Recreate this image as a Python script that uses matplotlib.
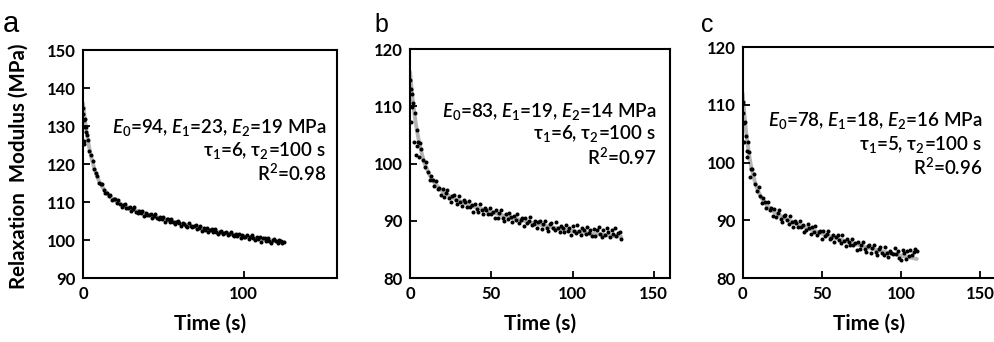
import numpy as np
import matplotlib
matplotlib.use('Agg')
import matplotlib.pyplot as plt

plt.rcParams['font.family'] = ['Lato', 'DejaVu Sans']
plt.rcParams['mathtext.fontset'] = 'custom'
plt.rcParams['mathtext.rm'] = 'Lato:semibold'
plt.rcParams['mathtext.it'] = 'Lato:italic:semibold'
plt.rcParams['mathtext.bf'] = 'Lato:bold'

# measured relaxation modulus (MPa), one sample per second
t_a = np.arange(0, 126)
E_a = [134.8, 131.9, 129.7, 126.3, 123.5, 122.3, 120.9, 118.6, 117.6, 116.9,
       115.0, 114.8, 114.7, 113.2, 112.4, 112.5, 111.7, 111.9, 110.4, 110.9,
       110.7, 109.7, 110.4, 109.5, 108.7, 109.3, 109.4, 108.4, 108.5, 108.7,
       107.7, 108.1, 108.6, 107.5, 107.2, 107.7, 107.2, 107.7, 106.4, 107.1,
       106.5, 106.6, 106.9, 105.9, 106.3, 106.8, 105.8, 105.5, 106.0, 105.5,
       106.0, 104.8, 105.5, 105.5, 104.7, 105.5, 104.7, 104.1, 104.8, 105.0,
       104.5, 103.8, 104.6, 104.3, 103.7, 103.3, 104.4, 103.7, 103.4, 103.8,
       103.9, 102.9, 103.1, 103.8, 102.5, 103.1, 102.6, 103.2, 102.0, 102.7,
       102.8, 102.0, 102.9, 102.1, 101.5, 102.2, 102.4, 101.6, 101.8, 102.1,
       101.2, 101.7, 102.2, 101.2, 101.0, 101.6, 101.1, 101.7, 100.5, 101.2,
       100.7, 100.9, 101.2, 100.3, 100.8, 101.3, 100.4, 100.1, 100.7, 100.3,
       100.8, 99.6, 100.4, 100.4, 99.7, 100.6, 99.8, 99.3, 100.0, 100.3,
       99.8, 99.2, 100.0, 99.8, 99.2, 99.6]
t_a0 = [0.2, 0.4, 0.6, 0.8, 1.3, 1.6, 2.4]
E_a0 = [133.2, 126.0, 131.5, 125.2, 129.8, 128.4, 127.6]

t_b = np.arange(0, 131)
E_b = [114.5, 112.2, 110.5, 108.9, 105.8, 103.7, 103.5, 102.6, 100.7, 99.4,
       100.2, 98.5, 97.2, 97.9, 97.1, 96.1, 97.0, 95.6, 95.8, 94.5,
       95.6, 94.2, 94.9, 95.3, 94.0, 93.3, 94.3, 94.5, 93.6, 93.0,
       94.4, 93.3, 92.5, 93.6, 93.2, 92.4, 93.5, 92.4, 92.8, 91.6,
       93.0, 92.1, 91.6, 93.0, 91.9, 91.1, 92.2, 91.8, 91.2, 92.3,
       91.2, 91.6, 90.4, 91.8, 90.5, 91.3, 91.8, 90.5, 90.0, 91.1,
       90.3, 91.3, 90.7, 89.7, 90.9, 90.1, 91.2, 89.6, 90.1, 90.4,
       89.1, 90.5, 89.6, 90.0, 90.6, 89.2, 89.5, 90.0, 88.8, 89.7,
       89.9, 88.6, 89.5, 90.0, 88.8, 88.2, 89.4, 89.6, 88.8, 88.3,
       89.8, 88.7, 88.0, 89.1, 88.8, 88.1, 89.3, 88.2, 88.7, 87.5,
       89.0, 88.2, 87.8, 89.2, 88.2, 87.5, 88.7, 88.4, 87.7, 88.9,
       87.9, 88.4, 87.3, 88.6, 87.4, 88.3, 88.9, 87.7, 87.1, 88.3,
       87.6, 88.7, 88.1, 87.1, 88.4, 87.7, 88.8, 87.3, 87.8, 88.1,
       86.9]
t_b0 = [0.3, 0.6, 1.4, 2.4, 3.4, 4.5, 5.5]
E_b0 = [113.0, 107.2, 109.9, 103.8, 101.5, 103.0, 101.2]

t_c = np.arange(0, 111)
E_c = [110.5, 106.8, 104.6, 102.0, 101.9, 98.9, 98.8, 98.0, 96.2, 95.0,
       95.8, 94.2, 93.0, 93.8, 93.1, 92.2, 93.1, 91.8, 92.1, 90.7,
       91.9, 90.5, 91.3, 91.7, 90.3, 89.7, 90.7, 90.9, 90.0, 89.4,
       90.8, 89.7, 88.9, 89.9, 89.5, 88.8, 89.9, 88.8, 89.1, 87.9,
       88.3, 89.3, 88.6, 87.6, 88.8, 88.0, 89.0, 87.4, 87.9, 88.1,
       86.8, 88.2, 87.2, 87.6, 88.1, 86.7, 87.0, 87.5, 86.3, 87.1,
       87.4, 86.5, 86.0, 87.5, 86.4, 85.6, 86.7, 86.3, 85.7, 86.8,
       85.7, 86.1, 84.9, 86.3, 85.0, 85.8, 86.3, 85.0, 84.5, 85.6,
       85.7, 84.4, 85.2, 85.8, 84.5, 83.9, 85.1, 85.3, 84.4, 84.0,
       85.4, 84.3, 83.6, 84.7, 84.4, 84.1, 85.2, 84.2, 84.6, 83.5,
       83.2, 84.9, 84.3, 83.3, 84.6, 83.8, 84.9, 84.0, 84.5, 85.1,
       84.6]
t_c0 = [0.3, 0.7, 1.5, 2.5, 3.5, 4.5]
E_c0 = [108.5, 103.5, 107.0, 100.9, 103.5, 97.5]

# fitted curves
tf_a = [0, 1, 2, 3, 4, 5, 6, 7, 8, 9, 10, 12, 14, 16, 18, 20, 25, 30, 40, 50,
        60, 70, 80, 90, 100, 110, 120, 125]
Ef_a = [136.0, 132.3, 129.1, 126.4, 124.1, 122.1, 120.4, 118.9, 117.6, 116.5,
        115.5, 114.0, 112.8, 111.8, 111.0, 110.4, 109.1, 108.2, 106.8, 105.5,
        104.4, 103.4, 102.5, 101.7, 101.0, 100.3, 99.7, 99.4]
tf_b = [0, 1, 2, 3, 4, 5, 6, 7, 8, 9, 10, 12, 14, 16, 18, 20, 25, 30, 40, 50,
        60, 70, 80, 90, 100, 110, 120, 130]
Ef_b = [116.0, 112.9, 110.3, 108.1, 106.2, 104.6, 103.2, 102.0, 100.9, 100.0,
        99.3, 98.0, 97.0, 96.3, 95.6, 95.1, 94.2, 93.5, 92.4, 91.5,
        90.7, 90.0, 89.3, 88.7, 88.2, 87.8, 87.5, 87.2]
tf_c = [0, 1, 2, 3, 4, 5, 6, 7, 8, 9, 10, 12, 14, 16, 18, 20, 25, 30, 40, 50,
        60, 70, 80, 90, 100, 110]
Ef_c = [112.0, 108.6, 105.7, 103.4, 101.5, 99.8, 98.5, 97.4, 96.4, 95.6,
        94.9, 93.8, 93.0, 92.4, 91.9, 91.4, 90.6, 89.9, 88.7, 87.7,
        86.8, 86.0, 85.2, 84.5, 83.9, 83.3]

labels = ['a', 'b', 'c']
ylims = [(90, 150), (80, 120), (80, 120)]
xticks = [[0, 100], [0, 50, 100, 150], [0, 50, 100, 150]]
xmax = [158, 160, 160]
fit_text = [
    [r'$E_0$=94, $E_1$=23, $E_2$=19 MPa', r'τ$_1$=6, τ$_2$=100 s', r'R$^2$=0.98'],
    [r'$E_0$=83, $E_1$=19, $E_2$=14 MPa', r'τ$_1$=6, τ$_2$=100 s', r'R$^2$=0.97'],
    [r'$E_0$=78, $E_1$=18, $E_2$=16 MPa', r'τ$_1$=5, τ$_2$=100 s', r'R$^2$=0.96'],
]

data = [(t_a, E_a, t_a0, E_a0, tf_a, Ef_a),
        (t_b, E_b, t_b0, E_b0, tf_b, Ef_b),
        (t_c, E_c, t_c0, E_c0, tf_c, Ef_c)]

fig = plt.figure(figsize=(9.95, 3.42), dpi=100)
rects = [[0.0834, 0.1871, 0.2553, 0.6667],
         [0.4121, 0.1871, 0.2613, 0.6696],
         [0.7464, 0.1871, 0.2546, 0.6754]]
text_x = [0.957, 0.946, 0.945]
text_y = [[0.662, 0.561, 0.461], [0.729, 0.629, 0.528], [0.680, 0.580, 0.481]]
letter_xy = [(0.003, 0.905), (0.376, 0.905), (0.705, 0.905)]
letter_size = [21, 18, 18]

for i in range(3):
    ax = fig.add_axes(rects[i])
    t, E, t0, E0, tf, Ef = data[i]
    ax.plot(tf, Ef, color='#b4b4b4', lw=2.8, zorder=1, solid_capstyle='round')
    ax.plot(t, E, 'o', color='black', ms=2.9, mew=0, zorder=2)
    ax.plot(t0, E0, 'o', color='black', ms=2.9, mew=0, zorder=2)

    ax.set_xlim(0, xmax[i])
    ax.set_ylim(*ylims[i])
    ax.set_xticks(xticks[i])
    ax.set_yticks(np.arange(ylims[i][0], ylims[i][1] + 1, 10))
    ax.tick_params(direction='in', length=5, width=1.3, labelsize=12)
    ax.tick_params(axis='x', pad=6)
    ax.tick_params(axis='y', pad=5)
    for lab in ax.get_xticklabels() + ax.get_yticklabels():
        lab.set_fontweight('bold')
    for s in ax.spines.values():
        s.set_linewidth(1.5)
    ax.set_xlabel('Time (s)', fontsize=15, fontweight='bold', labelpad=8)
    if i == 0:
        ax.set_ylabel('Relaxation  Modulus (MPa)', fontsize=14.8, fontweight='bold')
        ax.yaxis.set_label_coords(-0.215, 0.49)

    for line, yy in zip(fit_text[i], text_y[i]):
        ax.text(text_x[i], yy, line, transform=ax.transAxes, ha='right', va='center',
                fontsize=13.5, fontweight='semibold')

    fig.text(letter_xy[i][0], letter_xy[i][1], labels[i], fontsize=letter_size[i],
             family=['Liberation Sans', 'DejaVu Sans'])

fig.savefig('out.png', dpi=100)
